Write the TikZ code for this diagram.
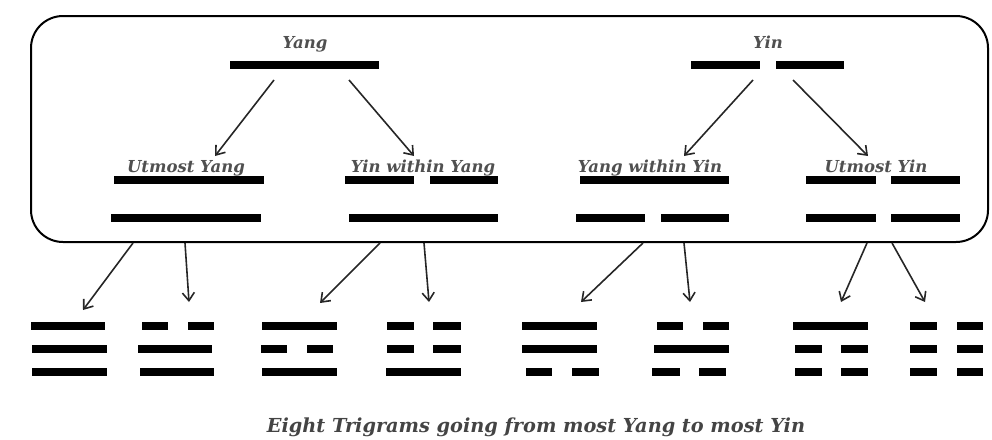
\documentclass[tikz,border=0pt]{standalone}
\usepackage{fontspec}
\setmainfont{DejaVu Serif}
\usetikzlibrary{arrows.meta}
\definecolor{labelgray}{HTML}{505050}
\definecolor{capgray}{HTML}{444444}
\tikzset{
  bar/.style={line width=8pt},
  conn/.style={line width=1.6pt, draw=black!85, -{Straight Barb[length=8pt,width=12pt,line width=1.6pt]}},
  lab/.style={text=labelgray, font=\fontsize{16.5}{19}\selectfont\bfseries\itshape, anchor=base, inner sep=0pt},
  captext/.style={text=capgray, font=\fontsize{19.3}{22}\selectfont\bfseries\itshape, anchor=base, inner sep=0pt},
  frame/.style={line width=2pt, rounded corners=32pt},
}
\newcommand\solidline[3]{\draw[bar] (#1,#3) -- (#2,#3);}
\newcommand\brokenline[5]{\draw[bar] (#1,#5) -- (#2,#5); \draw[bar] (#3,#5) -- (#4,#5);}
\begin{document}
\begin{tikzpicture}[x=1pt,y=-1pt]
\useasboundingbox (0,0) rectangle (992,439);
\draw[frame] (31,16) rectangle (988,242);

% labels
\node[lab] (yang) at (305,48) {Yang};
\node[lab] (yin) at (768,48) {Yin};
\node[lab] (uyang) at (186,172) {Utmost Yang};
\node[lab] (yiny) at (423,172) {Yin within Yang};
\node[lab] (yangy) at (650,172) {Yang within Yin};
\node[lab] (uyin) at (876,172) {Utmost Yin};

% top level
\solidline{230}{379}{65}
\brokenline{691}{760}{776}{844}{65}

% second level
\solidline{114}{264}{180}
\solidline{111}{261}{218}
\brokenline{345}{414}{430}{498}{180}
\solidline{349}{498}{218}
\solidline{580}{729}{180}
\brokenline{576}{645}{661}{729}{218}
\brokenline{806}{876}{891}{960}{180}
\brokenline{806}{876}{891}{960}{218}

% trigrams
\solidline{31}{105}{326}
\solidline{32}{107}{349}
\solidline{32}{107}{372}

\brokenline{142}{168}{188}{214}{326}
\solidline{138}{212}{349}
\solidline{140}{214}{372}

\solidline{262}{337}{326}
\brokenline{261}{287}{307}{333}{349}
\solidline{262}{337}{372}

\brokenline{387}{414}{433}{461}{326}
\brokenline{387}{414}{433}{461}{349}
\solidline{386}{461}{372}

\solidline{522}{597}{326}
\solidline{522}{597}{349}
\brokenline{526}{552}{572}{599}{372}

\brokenline{657}{683}{703}{729}{326}
\solidline{654}{729}{349}
\brokenline{652}{680}{699}{726}{372}

\solidline{793}{868}{326}
\brokenline{795}{822}{841}{868}{349}
\brokenline{795}{822}{841}{868}{372}

\brokenline{910}{937}{957}{983}{326}
\brokenline{910}{937}{957}{983}{349}
\brokenline{910}{937}{957}{983}{372}

% connector coordinates
\coordinate (a1s) at (274,80);  \coordinate (a1e) at (215,156);
\coordinate (a2s) at (349,80);  \coordinate (a2e) at (414,156);
\coordinate (a3s) at (753,80);  \coordinate (a3e) at (684,156);
\coordinate (a4s) at (793,80);  \coordinate (a4e) at (868,156);

\coordinate (b1s) at (133,243); \coordinate (b1e) at (83,310);
\coordinate (b2s) at (185,243); \coordinate (b2e) at (189,302);
\coordinate (b3s) at (380,243); \coordinate (b3e) at (320,303);
\coordinate (b4s) at (424,243); \coordinate (b4e) at (429,302);
\coordinate (b5s) at (643,243); \coordinate (b5e) at (581,302);
\coordinate (b6s) at (684,243); \coordinate (b6e) at (690,302);
\coordinate (b7s) at (867,243); \coordinate (b7e) at (841,302);
\coordinate (b8s) at (892,243); \coordinate (b8e) at (925,302);

\foreach \i in {1,...,4} {\draw[conn] (a\i s) -- (a\i e);}
\foreach \i in {1,...,8} {\draw[conn] (b\i s) -- (b\i e);}

\node[captext] (caption) at (536,432) {Eight Trigrams going from most Yang to most Yin};
\end{tikzpicture}
\end{document}
